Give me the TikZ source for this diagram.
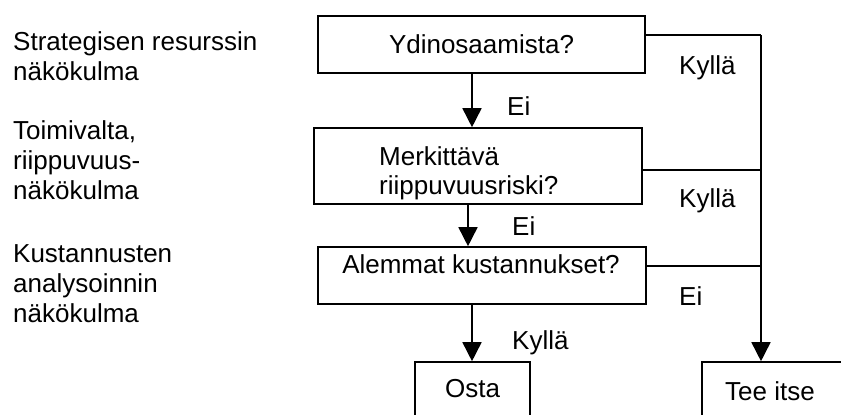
\documentclass[tikz,border=0pt]{standalone}
\usepackage{fontspec}
\setmainfont{Liberation Sans}
\usetikzlibrary{arrows.meta}
\tikzset{
  boxnode/.style={draw=black, line width=1.6pt, rectangle, inner sep=0pt},
  txt/.style={inner sep=0pt, font=\fontsize{26}{30}\selectfont},
  conn/.style={line width=1.6pt},
  arr/.style={line width=1.6pt, -{Triangle[width=19pt,length=19pt]}}
}
\begin{document}
\begin{tikzpicture}[x=1pt,y=-1pt]
\useasboundingbox (0,0) rectangle (841,415);
\clip (0,0) rectangle (841,415);
% left descriptive texts
\node[txt, anchor=base west] (l1a) at (13,50) {Strategisen resurssin};
\node[txt, anchor=base west] (l1b) at (13,80) {näkökulma};
\node[txt, anchor=base west] (l2a) at (13,139) {Toimivalta,};
\node[txt, anchor=base west] (l2b) at (13,169) {riippuvuus-};
\node[txt, anchor=base west] (l2c) at (13,199) {näkökulma};
\node[txt, anchor=base west] (l3a) at (13,262) {Kustannusten};
\node[txt, anchor=base west] (l3b) at (13,292) {analysoinnin};
\node[txt, anchor=base west] (l3c) at (13,322) {näkökulma};
% boxes
\node[boxnode, minimum width=327pt, minimum height=57pt] (b1) at (481.5,44.5) {};
\node[boxnode, minimum width=328pt, minimum height=76pt] (b2) at (478,166) {};
\node[boxnode, minimum width=328pt, minimum height=57pt] (b3) at (482,275.5) {};
\node[boxnode, minimum width=115pt, minimum height=80pt] (osta) at (472.5,402) {};
\node[boxnode, minimum width=160pt, minimum height=80pt] (tee) at (782,402) {};
% box texts
\node[txt, anchor=base] (t1) at (481.5,53) {Ydinosaamista?};
\node[txt, anchor=base west] (t2a) at (379,165) {Merkittävä};
\node[txt, anchor=base west] (t2b) at (379,194) {riippuvuusriski?};
\node[txt, anchor=base] (t3) at (481,273) {Alemmat kustannukset?};
\node[txt, anchor=base] (t4) at (472.5,397) {Osta};
\node[txt, anchor=base west] (t5) at (725,400) {Tee itse};
% labels
\node[txt, anchor=base west] (e1) at (507,115) {Ei};
\node[txt, anchor=base west] (e2) at (512,235) {Ei};
\node[txt, anchor=base west] (k3) at (512,349) {Kyllä};
\node[txt, anchor=base west] (kr1) at (679,74) {Kyllä};
\node[txt, anchor=base west] (kr2) at (679,207) {Kyllä};
\node[txt, anchor=base west] (er) at (679,305) {Ei};
% junction coordinates
\coordinate (j1) at (761,35);
\coordinate (j2) at (761,170);
\coordinate (j3) at (761,266);
\coordinate (x1) at (472,0);
\coordinate (x2) at (468,0);
% connectors
\draw[conn] (b1.east |- j1) -- (j1);
\draw[conn] (b2.east |- j2) -- (j2);
\draw[conn] (b3.east |- j3) -- (j3);
\draw[arr] (j1) -- (j1 |- tee.north);
\draw[arr] (x1 |- b1.south) -- (x1 |- b2.north);
\draw[arr] (x2 |- b2.south) -- (x2 |- b3.north);
\draw[arr] (x1 |- b3.south) -- (x1 |- osta.north);
\end{tikzpicture}
\end{document}
